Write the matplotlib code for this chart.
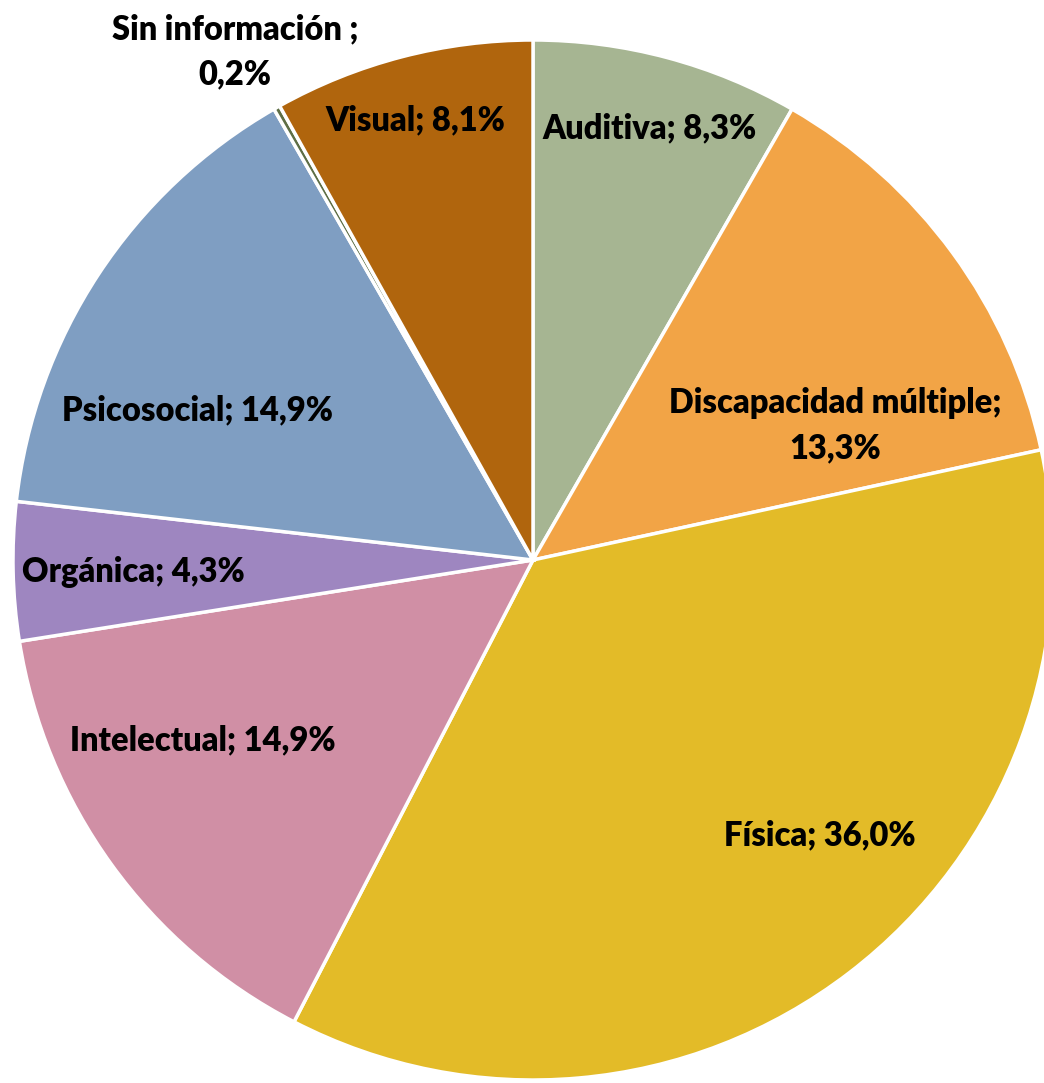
import matplotlib
matplotlib.use("Agg")
import matplotlib.pyplot as plt

categories = ["Auditiva", "Discapacidad múltiple", "Física", "Intelectual",
              "Orgánica", "Psicosocial", "Sin información ", "Visual"]
values = [8.3, 13.3, 36.0, 14.9, 4.3, 14.9, 0.2, 8.1]
label_texts = ["Auditiva; 8,3%", "Discapacidad múltiple;\n13,3%", "Física; 36,0%",
               "Intelectual; 14,9%", "Orgánica; 4,3%", "Psicosocial; 14,9%",
               "Sin información ;\n0,2%", "Visual; 8,1%"]

colors = ["#A6B592", "#F2A446", "#E3BB28", "#D08FA5", "#9E86C0", "#7F9EC2",
          "#5E6E45", "#B0650D"]
label_pos = [(0.225, 0.831), (0.581, 0.258), (0.552, -0.529), (-0.635, -0.346),
             (-0.769, -0.023), (-0.646, 0.288), (-0.573, 0.977), (-0.227, 0.846)]

fig = plt.figure(figsize=(10.44, 10.83), dpi=100)
ax = fig.add_axes([13 / 1044, 3 / 1083, 1040 / 1044, 1040 / 1083])
ax.pie(values, colors=colors, startangle=90, counterclock=False,
       wedgeprops=dict(edgecolor="white", linewidth=2.5), radius=1.0)
ax.set_xlim(-1, 1)
ax.set_ylim(-1, 1)
ax.set_aspect("equal")
ax.axis("off")
for txt, (x, y) in zip(label_texts, label_pos):
    ax.text(x, y, txt, ha="center", va="center", fontsize=23.5, fontweight="heavy",
            family=["Lato", "DejaVu Sans"], color="black", linespacing=1.5,
            clip_on=False)

fig.savefig("out.png", dpi=100)
